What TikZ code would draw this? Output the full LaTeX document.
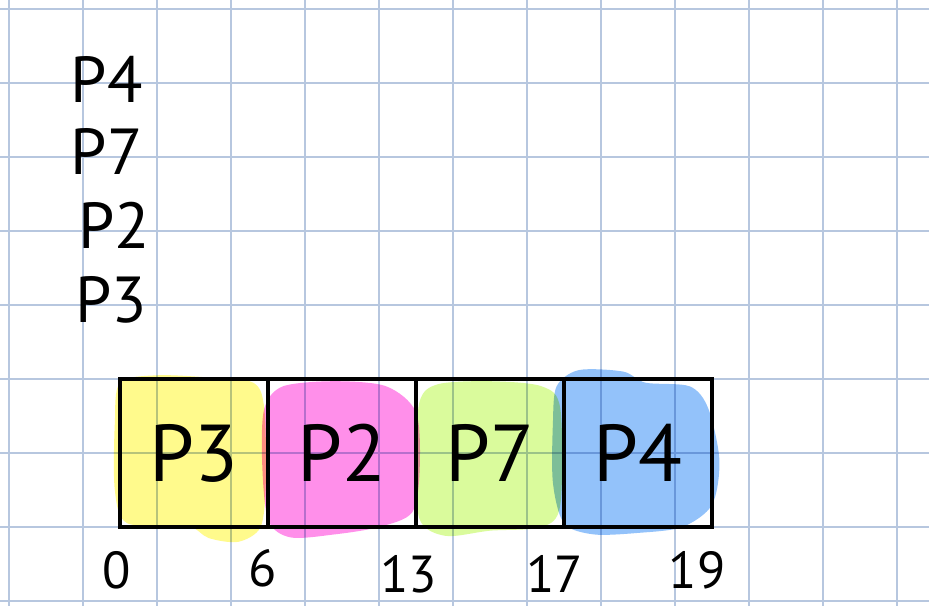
\documentclass[tikz,border=0pt]{standalone}
\usepackage{fontspec}
\setmainfont{PT Sans}
\usetikzlibrary{positioning}

\definecolor{hlyellow}{HTML}{FFFA8C}
\definecolor{hlpink}{HTML}{FF8FEA}
\definecolor{hlgreen}{HTML}{DAFB9C}
\definecolor{hlblue}{HTML}{93C2FA}
\definecolor{gridblue}{HTML}{B7C7DF}

\begin{document}
\begin{tikzpicture}[
  gridline/.style={draw=gridblue, line width=0.8pt},
  cell/.style={draw, line width=1.7pt, outer sep=0pt, inner sep=0pt, minimum width=2cm, minimum height=2cm, font=\fontsize{31}{31}\selectfont},
  queued/.style={font=\fontsize{25}{25}\selectfont},
  tick/.style={font=\fontsize{20}{20}\selectfont},
  blob/.style={blend mode=multiply}
]
\useasboundingbox (-0.1216,-0.0676) rectangle (12.4324,8.1216);
\clip (-0.1216,-0.0676) rectangle (12.4324,8.1216);
\fill[white] (-0.1216,-0.0676) rectangle (12.4324,8.1216);
\draw[gridline] (-1,-1) grid (13,9);

% highlighter marks
\fill[hlyellow, blob] plot[smooth cycle] coordinates {(1.5,2.95) (2.0,3.05) (2.7,3.02) (3.3,2.95) (3.45,2.6) (3.47,1.6) (3.4,1.0) (3.1,0.8) (2.7,0.85) (2.4,1.02) (1.6,1.05) (1.43,1.5) (1.43,2.4)};
\fill[hlpink, blob] plot[smooth cycle] coordinates {(3.45,2.6) (3.7,2.9) (4.4,2.97) (5.1,2.9) (5.5,2.55) (5.55,1.8) (5.45,1.2) (5.0,1.0) (4.4,0.9) (3.8,0.86) (3.5,1.1) (3.42,1.9)};
\fill[hlgreen, blob] plot[smooth cycle] coordinates {(5.55,2.7) (5.8,2.93) (6.5,2.97) (7.2,2.9) (7.45,2.6) (7.45,1.3) (7.2,1.0) (6.5,0.95) (5.9,0.88) (5.55,1.1) (5.5,1.9)};
\fill[hlblue, blob] plot[smooth cycle] coordinates {(7.4,2.9) (7.7,3.12) (8.3,3.1) (8.6,2.95) (9.2,2.9) (9.45,2.6) (9.6,1.9) (9.5,1.3) (9.1,1.0) (8.5,0.92) (7.9,0.9) (7.5,1.05) (7.35,1.6) (7.35,2.4)};

% ready queue
\node[queued] (q4) at (1.32,7.05) {P4};
\node[queued] (q7) at (1.32,6.07) {P7};
\node[queued] (q2) at (1.42,5.08) {P2};
\node[queued] (q3) at (1.38,4.07) {P3};

% gantt chart
\node[cell] (p3) at (2.5,2) {P3};
\node[cell, right=0pt of p3] (p2) {P2};
\node[cell, right=0pt of p2] (p7) {P7};
\node[cell, right=0pt of p7] (p4) {P4};

\node[tick] (t0) at (1.45,0.42) {0};
\node[tick] (t6) at (3.43,0.44) {6};
\node[tick] (t13) at (5.4,0.36) {13};
\node[tick] (t17) at (7.37,0.37) {17};
\node[tick] (t19) at (9.3,0.42) {19};
\end{tikzpicture}
\end{document}
